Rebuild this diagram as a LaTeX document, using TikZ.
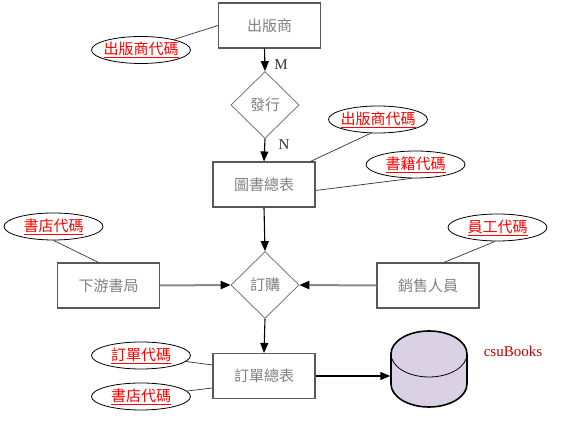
\documentclass[tikz,border=0pt]{standalone}
\usepackage{fontspec}
\setmainfont{Liberation Serif}
\newfontfamily\cjk{Noto Sans CJK TC}
\usetikzlibrary{shapes.geometric,arrows.meta}
\definecolor{labelgray}{RGB}{128,128,128}
\definecolor{keyred}{RGB}{255,0,0}
\definecolor{dbfill}{RGB}{218,210,228}
\definecolor{dbred}{RGB}{190,0,0}
\newcommand{\keytext}[1]{\makebox[64pt]{\textcolor{keyred}{\underline{#1}}}}

\begin{document}
\begin{tikzpicture}[
    x=1pt, y=1pt,
    entity/.style={
        rectangle, draw=black!65, line width=1.1pt,
        minimum width=102pt, minimum height=45pt,
        text=labelgray, font=\cjk\fontsize{15}{17}\selectfont
    },
    relation/.style={
        diamond, draw=black!60, line width=0.7pt, inner sep=1pt,
        minimum width=68pt, minimum height=67pt,
        text=labelgray, font=\cjk\fontsize{15}{17}\selectfont
    },
    keyattr/.style={
        ellipse, draw=black, line width=0.8pt, inner sep=0pt,
        minimum width=99pt, minimum height=27pt,
        font=\cjk\fontsize{15}{17}\selectfont
    },
    links/.style={draw=black!80, line width=0.7pt},
    flows/.style={-{Triangle[length=10pt,width=8pt]}, line width=1.1pt},
    feeds/.style={-{Triangle[length=10pt,width=8pt,color=black]},
        draw=black!45, line width=2pt},
    card/.style={font=\fontsize{15}{17}\selectfont, text=black!80}
]
\useasboundingbox (0,0) rectangle (584,446);

% Publisher side
\node[entity] (pub) at (269.5, 420.5) {出版商};
\node[keyattr] (pubkey) at (141, 396) {\keytext{出版商代碼}};
\node[relation] (issue) at (265, 341) {發行};
\node[entity] (book) at (264, 261.5) {圖書總表};
\node[keyattr] (bookpub) at (378, 326.5) {\keytext{出版商代碼}};
\node[keyattr] (bookid) at (415.5, 281.5) {\keytext{書籍代碼}};
\node[card] (mlabel) at (281, 381) {M};
\node[card] (nlabel) at (284, 301) {N};

% Ordering
\node[relation] (order) at (265, 161) {訂購};
\node[entity] (store) at (108.5, 160.5) {下游書局};
\node[keyattr] (storekey) at (53.5, 219.5) {\keytext{書店代碼}};
\node[entity] (staff) at (428, 160.5) {銷售人員};
\node[keyattr] (staffkey) at (497.5, 218.5) {\keytext{員工代碼}};

% Orders table and database
\node[entity] (orders) at (264, 70) {訂單總表};
\node[keyattr] (ordkey) at (141, 90.5) {\keytext{訂單代碼}};
\node[keyattr] (ordstore) at (141, 49.5) {\keytext{書店代碼}};
\node[minimum width=77pt, minimum height=77pt, inner sep=0pt] (db) at (429, 77) {};
\node[text=dbred, font=\fontsize{15}{17}\selectfont] (dbname) at (513, 95) {csuBooks};

% Cylinder
\draw[fill=dbfill, line width=1.6pt]
    (391, 92) -- (391, 62) arc[start angle=180, end angle=360, x radius=38, y radius=23]
    -- (467, 92) arc[start angle=0, end angle=180, x radius=38, y radius=23] -- cycle;
\draw[line width=0.8pt] (391, 92) arc[start angle=180, end angle=360, x radius=38, y radius=23];

% Relationships
\draw[flows] ([xshift=-5pt]pub.south) -- (issue.north);
\draw[flows] (issue.south) -- (book.north);
\draw[flows] (book.south) -- (order.north);
\draw[flows] (order.south) -- (orders.north);
\draw[feeds] (store.east) -- (order.west);
\draw[feeds] (staff.west) -- (order.east);
\draw[flows] (orders.east) -- (orders.east -| db.west);

% Key attributes
\draw[links] (pubkey) -- (pub.west);
\draw[links] (bookpub.-118) -- ([xshift=-5pt]book.north east);
\draw[links] (bookid.-105) -- ([yshift=-6pt]book.east);
\draw[links] (storekey.south) -- ([xshift=-10pt]store.north);
\draw[links] (staffkey.-100) -- ([xshift=16pt]staff.north);
\draw[links] (ordkey) -- ([yshift=11pt]orders.west);
\draw[links] (ordstore) -- ([yshift=-12pt]orders.west);

\end{tikzpicture}
\end{document}
